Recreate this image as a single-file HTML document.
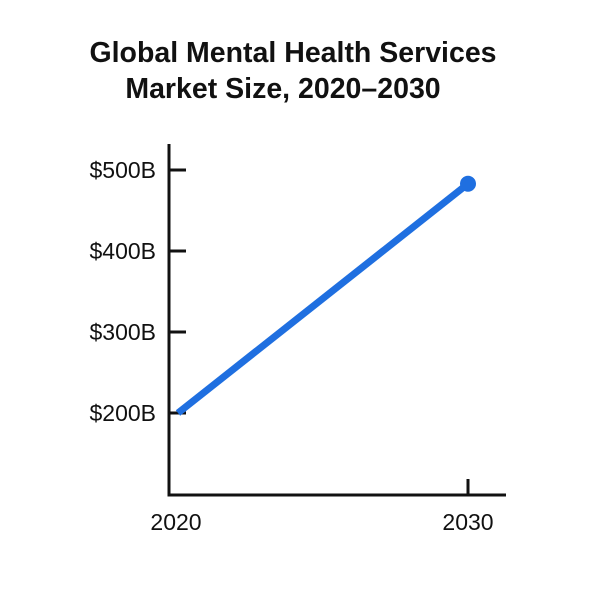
<!DOCTYPE html>
<html><head><meta charset="utf-8"><style>
html,body{margin:0;padding:0;background:#fff;}
svg{display:block;font-family:"Liberation Sans",sans-serif;}
</style></head><body>
<svg id="chart" width="600" height="600" viewBox="0 0 600 600">
<rect width="600" height="600" fill="#fff"/>
<text x="293" y="62" text-anchor="middle" font-size="28.5" font-weight="bold" fill="#111">Global Mental Health Services</text>
<text x="283" y="98" text-anchor="middle" font-size="28.5" font-weight="bold" fill="#111">Market Size, 2020–2030</text>
<g id="axes"></g>
<g id="marks"></g>
</svg>
<script>
const years = [2020, 2030];
const values = [200, 483];
const yTicks = [200, 300, 400, 500];
const yTickLabels = ["$200B", "$300B", "$400B", "$500B"];
const xTickLabels = ["2020", "2030"];

const NS = "http://www.w3.org/2000/svg";
function xScale(v){ return 178 + (v - 2020) * (468 - 178) / 10; }
function yScale(v){ return 413 - (v - 200) * 0.81; }
function mk(tag, attrs, parent){ const e = document.createElementNS(NS, tag); for (const k in attrs) e.setAttribute(k, attrs[k]); parent.appendChild(e); return e; }

const axes = document.getElementById("axes");
const marks = document.getElementById("marks");

const yAxis = mk("line", {x1:169, y1:144, x2:169, y2:496, stroke:"#111", "stroke-width":3}, axes);


const xAxis = mk("line", {x1:167.5, y1:495, x2:506, y2:495, stroke:"#111", "stroke-width":3}, axes);



yTicks.forEach((t, i) => {
  const y = yScale(t);
  const tk = mk("line", {x1:169, y1:y, x2:186, y2:y, stroke:"#111", "stroke-width":3}, axes);
  
  
  const lb = mk("text", {x:156, y:y + 8, "text-anchor":"end", "font-size":23, fill:"#111"}, axes);
  lb.textContent = yTickLabels[i];
  
  
});

years.forEach((yr, i) => {
  const x = xScale(yr);
  if (i > 0) {
    const tk = mk("line", {x1:x, y1:479, x2:x, y2:495, stroke:"#111", "stroke-width":3}, axes);
    
    
  }
  const lb = mk("text", {x:i === 0 ? x - 2 : x, y:530, "text-anchor":"middle", "font-size":23, fill:"#111"}, axes);
  lb.textContent = xTickLabels[i];
  
  
});

const pts = years.map((yr, i) => xScale(yr) + "," + yScale(values[i])).join(" ");
const line = mk("polyline", {points:pts, fill:"none", stroke:"#1f6fe0", "stroke-width":7, "stroke-linecap":"butt"}, marks);


const last = years.length - 1;
const dot = mk("circle", {cx:xScale(years[last]), cy:yScale(values[last]), r:8, fill:"#1f6fe0"}, marks);


</script>
</body></html>
